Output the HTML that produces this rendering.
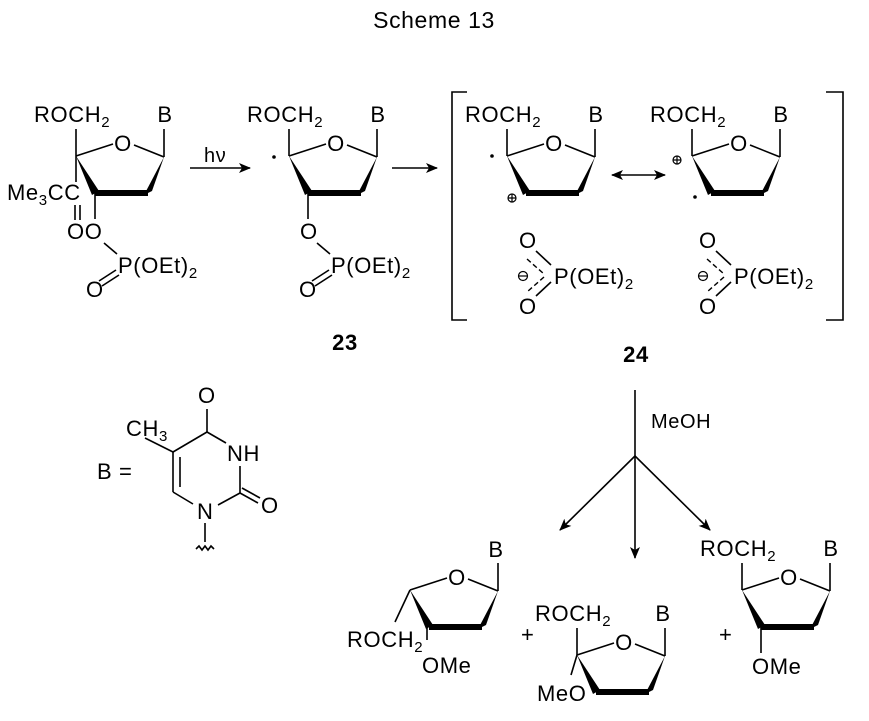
<!DOCTYPE html>
<html><head><meta charset="utf-8"><style>
html,body{margin:0;padding:0;background:#fff;}
svg{display:block;}
text{font-family:"Liberation Sans",Arial,sans-serif;font-size:22px;letter-spacing:0.6px;fill:#000;}
.s{font-size:15px;}
</style></head><body>
<svg width="869" height="721" viewBox="0 0 869 721" xmlns="http://www.w3.org/2000/svg">
<defs>
<marker id="ah" markerWidth="12" markerHeight="10" refX="11" refY="5" orient="auto" markerUnits="userSpaceOnUse">
<path d="M0,0 L12,5 L0,10 L3,5 Z" fill="#000"/></marker>
<marker id="ahs" markerWidth="12" markerHeight="10" refX="1" refY="5" orient="auto" markerUnits="userSpaceOnUse">
<path d="M12,0 L0,5 L12,10 L9,5 Z" fill="#000"/></marker>
<g id="ring" stroke="#000" stroke-width="1.6" fill="none">
<line x1="0" y1="0" x2="37" y2="-12"/>
<line x1="58" y1="-11" x2="88" y2="1"/>
<line x1="88" y1="1" x2="88" y2="-27"/>
<polygon points="0,0 16,39 23,35" fill="#000" stroke="none"/>
<line x1="19" y1="37" x2="72" y2="37" stroke-width="6"/>
<polygon points="68,39 76,35 88,1" fill="#000" stroke="none"/>
</g>
</defs>
<text x="434" y="28" text-anchor="middle" style="font-size:23px">Scheme 13</text>

<!-- Ring 1 -->
<g transform="translate(76,156)">
<use href="#ring"/>
<text x="47" y="-5" text-anchor="middle">O</text>
<line x1="0" y1="0" x2="0" y2="-27" stroke="#000" stroke-width="1.6"/>
<text x="-42" y="-34">ROCH<tspan class="s" dy="5">2</tspan></text>
<text x="89" y="-34" text-anchor="middle">B</text>
</g>
<line x1="76" y1="156" x2="76" y2="182" stroke="#000" stroke-width="1.6"/>
<text x="7" y="200">Me<tspan class="s" dy="5">3</tspan><tspan dy="-5">CC</tspan></text>
<line x1="75" y1="205" x2="75" y2="220" stroke="#000" stroke-width="1.6"/>
<line x1="80" y1="205" x2="80" y2="220" stroke="#000" stroke-width="1.6"/>
<line x1="95" y1="193" x2="95" y2="219" stroke="#000" stroke-width="1.6"/>
<text x="67" y="239">OO</text>
<line x1="104" y1="243" x2="117" y2="254" stroke="#000" stroke-width="1.6"/>
<text x="118" y="273">P(OEt)<tspan class="s" dy="5">2</tspan></text>
<line x1="99" y1="281" x2="116" y2="270" stroke="#000" stroke-width="1.6"/>
<line x1="102" y1="286" x2="119" y2="275" stroke="#000" stroke-width="1.6"/>
<text x="86" y="297">O</text>

<!-- arrow hv -->
<line x1="190" y1="168" x2="250" y2="168" stroke="#000" stroke-width="1.6" marker-end="url(#ah)"/>
<text x="204" y="162" style="font-size:20px">hν</text>

<!-- Ring 2 -->
<g transform="translate(289,156)">
<use href="#ring"/>
<text x="47" y="-5" text-anchor="middle">O</text>
<line x1="0" y1="0" x2="0" y2="-27" stroke="#000" stroke-width="1.6"/>
<text x="-42" y="-34">ROCH<tspan class="s" dy="5">2</tspan></text>
<text x="89" y="-34" text-anchor="middle">B</text>
<circle cx="-15" cy="1" r="1.8" fill="#000"/>
<line x1="19" y1="37" x2="19" y2="63" stroke="#000" stroke-width="1.6"/>
<text x="11" y="83">O</text>
<line x1="28" y1="87" x2="41" y2="98" stroke="#000" stroke-width="1.6"/>
<text x="42" y="117">P(OEt)<tspan class="s" dy="5">2</tspan></text>
<line x1="23" y1="125" x2="40" y2="114" stroke="#000" stroke-width="1.6"/>
<line x1="26" y1="130" x2="43" y2="119" stroke="#000" stroke-width="1.6"/>
<text x="10" y="141">O</text>
</g>
<text x="345" y="350" text-anchor="middle" style="font-weight:bold">23</text>

<line x1="392" y1="168" x2="437" y2="168" stroke="#000" stroke-width="1.6" marker-end="url(#ah)"/>

<!-- brackets -->
<polyline points="467,92 452,92 452,320 467,320" fill="none" stroke="#000" stroke-width="1.6"/>
<polyline points="826,92 843,92 843,320 826,320" fill="none" stroke="#000" stroke-width="1.6"/>

<!-- Ring 3 -->
<g transform="translate(507,156)">
<use href="#ring"/>
<text x="47" y="-5" text-anchor="middle">O</text>
<line x1="0" y1="0" x2="0" y2="-27" stroke="#000" stroke-width="1.6"/>
<text x="-42" y="-34">ROCH<tspan class="s" dy="5">2</tspan></text>
<text x="89" y="-34" text-anchor="middle">B</text>
<circle cx="-15" cy="0" r="1.8" fill="#000"/>
<circle cx="5" cy="42" r="4" fill="none" stroke="#000" stroke-width="1.2"/>
<path d="M1,42 H9 M5,38 V46" stroke="#000" stroke-width="1.2"/>
</g>
<line x1="612" y1="175" x2="665" y2="175" stroke="#000" stroke-width="1.6" marker-start="url(#ahs)" marker-end="url(#ah)"/>
<!-- Ring 4 -->
<g transform="translate(692,156)">
<use href="#ring"/>
<text x="47" y="-5" text-anchor="middle">O</text>
<line x1="0" y1="0" x2="0" y2="-27" stroke="#000" stroke-width="1.6"/>
<text x="-42" y="-34">ROCH<tspan class="s" dy="5">2</tspan></text>
<text x="89" y="-34" text-anchor="middle">B</text>
<circle cx="-15" cy="4" r="4" fill="none" stroke="#000" stroke-width="1.2"/>
<path d="M-19,4 H-11 M-15,0 V8" stroke="#000" stroke-width="1.2"/>
<circle cx="3" cy="41" r="1.8" fill="#000"/>
</g>

<!-- phosphates -->
<g id="phos">
<text x="519" y="248">O</text>
<text x="519" y="314">O</text>
<text x="554" y="284">P(OEt)<tspan class="s" dy="5">2</tspan></text>
<line x1="536" y1="251" x2="551" y2="265" stroke="#000" stroke-width="1.6"/>
<line x1="551" y1="282" x2="536" y2="296" stroke="#000" stroke-width="1.6"/>
<line x1="527" y1="259" x2="544" y2="274" stroke="#000" stroke-width="1.4" stroke-dasharray="5,3"/>
<line x1="544" y1="277" x2="527" y2="292" stroke="#000" stroke-width="1.4" stroke-dasharray="5,3"/>
<circle cx="523" cy="276" r="4.5" fill="none" stroke="#000" stroke-width="1.2"/>
<line x1="519" y1="276" x2="527" y2="276" stroke="#000" stroke-width="1.2"/>
</g>
<use href="#phos" x="180"/>
<text x="636" y="362" text-anchor="middle" style="font-weight:bold">24</text>

<!-- MeOH arrows -->
<g stroke="#000" stroke-width="1.6">
<line x1="635" y1="390" x2="635" y2="558" marker-end="url(#ah)"/>
<line x1="635" y1="456" x2="560" y2="530" marker-end="url(#ah)"/>
<line x1="635" y1="456" x2="710" y2="530" marker-end="url(#ah)"/>
</g>
<text x="651" y="428" style="font-size:20px">MeOH</text>

<!-- thymine -->
<text x="97" y="479">B =</text>
<text x="126" y="436">CH<tspan class="s" dy="5">3</tspan></text>
<g stroke="#000" stroke-width="1.6" fill="none">
<line x1="145" y1="438" x2="173" y2="452"/>
<line x1="173" y1="452" x2="207" y2="432"/>
<line x1="207" y1="432" x2="207" y2="409"/>
<line x1="207" y1="432" x2="226" y2="443"/>
<line x1="240" y1="466" x2="240" y2="493"/>
<line x1="240" y1="493" x2="218" y2="505"/>
<line x1="240" y1="493" x2="258" y2="503"/>
<line x1="242" y1="488" x2="260" y2="498"/>
<line x1="173" y1="452" x2="173" y2="492"/>
<line x1="180" y1="457" x2="180" y2="487"/>
<line x1="173" y1="492" x2="193" y2="504"/>
<line x1="205" y1="523" x2="205" y2="542"/>
<path d="M196,549 l3,-3 l3,4 l3,-4 l3,4 l3,-4 l3,3"/>
</g>
<text x="198" y="403">O</text>
<text x="227" y="461">NH</text>
<text x="197" y="519">N</text>
<text x="261" y="513">O</text>

<!-- product 1 -->
<g transform="translate(410,590)">
<use href="#ring"/>
<text x="47" y="-5" text-anchor="middle">O</text>
<text x="86" y="-33" text-anchor="middle">B</text>
<line x1="0" y1="0" x2="-15" y2="32" stroke="#000" stroke-width="1.6"/>
<line x1="17" y1="37" x2="17" y2="50" stroke="#000" stroke-width="1.6"/>
</g>
<text x="347" y="647">ROCH<tspan class="s" dy="5">2</tspan></text>
<text x="422" y="673">OMe</text>
<text x="521" y="642">+</text>

<!-- product 2 -->
<g transform="translate(577,655)">
<use href="#ring"/>
<text x="47" y="-5" text-anchor="middle">O</text>
<line x1="0" y1="0" x2="0" y2="-27" stroke="#000" stroke-width="1.6"/>
<text x="-42" y="-34">ROCH<tspan class="s" dy="5">2</tspan></text>
<text x="86" y="-34" text-anchor="middle">B</text>
<line x1="0" y1="0" x2="-6" y2="20" stroke="#000" stroke-width="1.6"/>
</g>
<text x="537" y="701">MeO</text>
<text x="719" y="642">+</text>

<!-- product 3 -->
<g transform="translate(742,590)">
<use href="#ring"/>
<text x="47" y="-5" text-anchor="middle">O</text>
<line x1="0" y1="0" x2="0" y2="-27" stroke="#000" stroke-width="1.6"/>
<text x="-42" y="-34">ROCH<tspan class="s" dy="5">2</tspan></text>
<text x="89" y="-34" text-anchor="middle">B</text>
<line x1="19" y1="37" x2="19" y2="63" stroke="#000" stroke-width="1.6"/>
</g>
<text x="752" y="674">OMe</text>
</svg>
</body></html>
